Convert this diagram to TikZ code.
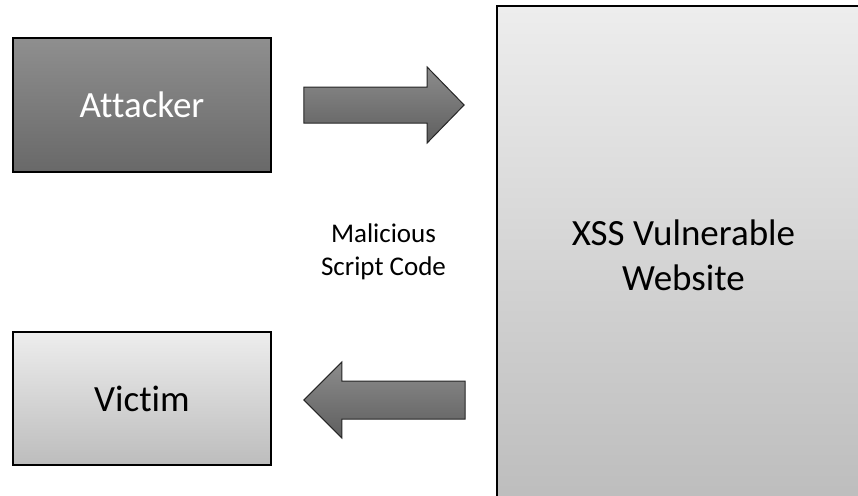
\documentclass[tikz,border=0pt]{standalone}
\usepackage{fontspec}
\setmainfont[Ligatures={NoCommon}]{Carlito}
\usetikzlibrary{calc}
\begin{document}
\begin{tikzpicture}[x=1pt,y=-1pt,
  box/.style={draw=black,line width=1.8pt,rectangle,inner sep=0pt,align=center,font=\fontsize{37}{45}\selectfont},
  darkbox/.style={box,top color=black!44,bottom color=black!59,text=white},
  lightbox/.style={box,top color=black!7,bottom color=black!26,text=black},
  fatarrow/.style={draw=black!85,line width=1pt,line join=miter,top color=black!45,bottom color=black!63},
  lbl/.style={align=center,font=\fontsize{27}{33}\selectfont,text=black}]
\useasboundingbox (0,0) rectangle (858,495);
\clip (0,0) rectangle (858,495);
\fill[white] (0,0) rectangle (858,495);
\node[lightbox,minimum width=373pt,minimum height=498pt] (web) at (683.5,255) {XSS Vulnerable\\Website};
\node[darkbox,minimum width=258pt,minimum height=134pt] (att) at (142,105) {Attacker};
\node[lightbox,minimum width=258pt,minimum height=133pt] (vic) at (142,398.5) {Victim};
\node[lbl] (mal) at (383.5,252) {Malicious\\Script Code};
% right arrow (Attacker -> Website)
\coordinate (rs) at ($(att.east)+(32,0)$);
\coordinate (rt) at ($(att.east -| web.west)+(-32,0)$);
\path[fatarrow] ($(rs)+(0,-18)$) -- ($(rt)+(-37,-18)$) -- ($(rt)+(-37,-38)$) -- (rt)
  -- ($(rt)+(-37,38)$) -- ($(rt)+(-37,18)$) -- ($(rs)+(0,18)$) -- cycle;
% left arrow (Website -> Victim)
\coordinate (ls) at ($(vic.east -| web.west)+(-31,1.5)$);
\coordinate (lt) at ($(vic.east)+(32,1.5)$);
\path[fatarrow] ($(ls)+(0,-19)$) -- ($(lt)+(38,-19)$) -- ($(lt)+(38,-38)$) -- (lt)
  -- ($(lt)+(38,38)$) -- ($(lt)+(38,19)$) -- ($(ls)+(0,19)$) -- cycle;
\end{tikzpicture}
\end{document}
